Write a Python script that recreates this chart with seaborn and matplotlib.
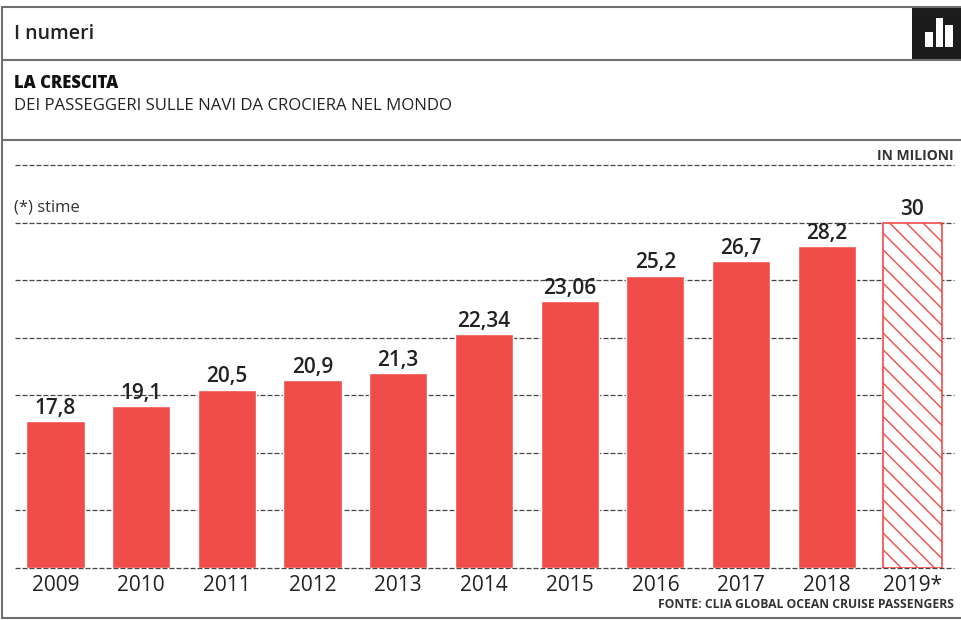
import matplotlib
matplotlib.use('Agg')
import matplotlib.pyplot as plt
from matplotlib.lines import Line2D
from matplotlib.patches import Rectangle
import pandas as pd
import seaborn as sns

W, H = 962, 620

# Categories and printed labels
years = ['2009', '2010', '2011', '2012', '2013', '2014', '2015', '2016', '2017', '2018', '2019*']
value_labels = ['17,8', '19,1', '20,5', '20,9', '21,3', '22,34', '23,06', '25,2', '26,7', '28,2', '30']
# Bar heights as printed, read against the gridlines (the original is not to scale with its labels)
bar_heights = [12.8, 14.05, 15.5, 16.35, 16.95, 20.35, 23.15, 25.4, 26.65, 27.95, 30]
grid_ticks = [0, 5, 10, 15, 20, 25, 30, 35]

RED = '#F04C4A'
INK = '#222222'
LINE = '#707070'

sns.set_theme(style='white')
plt.rcParams['font.family'] = ['Open Sans', 'DejaVu Sans']
plt.rcParams['hatch.linewidth'] = 1.0
plt.rcParams['hatch.color'] = RED


def fx(px):
    return px / W


def fy(py):
    return 1 - py / H


df = pd.DataFrame({'year': years, 'height': bar_heights})

fig = plt.figure(figsize=(W / 100, H / 100), dpi=100, facecolor='white')
ax = fig.add_axes([fx(15), fy(568), fx(954) - fx(15), fy(165) - fy(568)])

sns.barplot(data=df, x='year', y='height', color=RED, saturation=1, width=0.68, ax=ax)

ax.set_xlim(-0.472, 10.485)
ax.set_ylim(0, 35)
ax.set_yticks(grid_ticks)
ax.set_yticklabels([])
ax.set_xlabel('')
ax.set_ylabel('')
ax.set_axisbelow(True)
ax.grid(axis='y', color='#444444', linewidth=0.9, linestyle=(0, (4, 1.6)), clip_on=False)
ax.grid(axis='x', visible=False)
sns.despine(ax=ax, left=True, bottom=True, top=True, right=True)
ax.patch.set_alpha(0)
ax.tick_params(axis='x', length=0, pad=5, labelsize=15, labelcolor=INK)
ax.tick_params(axis='y', length=0)

# last bar is the estimate
last = ax.patches[-1]
last.set_facecolor('white')
last.set_edgecolor(RED)
last.set_hatch('\\\\')
last.set_linewidth(1.2)

ax.bar_label(ax.containers[0], labels=value_labels, padding=1.5, fontsize=15,
             fontweight='semibold', color=INK)

# frame and header rules (no rule on the right edge in the original)
for y in [7, 59.5, 140, 618]:
    fig.add_artist(Line2D([fx(2), 1], [fy(y), fy(y)], color=LINE, linewidth=1.5))
fig.add_artist(Line2D([fx(2), fx(2)], [fy(7), fy(618)], color=LINE, linewidth=1.5))

# dark box with the small bar icon
fig.add_artist(Rectangle((fx(912), fy(59)), fx(962) - fx(912), fy(7) - fy(59),
                         transform=fig.transFigure, color='#1c1c1c', linewidth=0))
for x0, x1, top in [(925, 932.7, 31.7), (935.7, 943.3, 18.3), (945, 952.7, 25)]:
    fig.add_artist(Rectangle((fx(x0), fy(46.7)), fx(x1) - fx(x0), fy(top) - fy(46.7),
                             transform=fig.transFigure, color='white', linewidth=0))

fig.text(fx(14), fy(34), 'I numeri', fontsize=14, fontweight='semibold', color=INK, va='center')
fig.text(fx(14), fy(83), 'LA CRESCITA', fontsize=12, fontweight='heavy', color='#111111', va='center')
fig.text(fx(14), fy(105.5), 'DEI PASSEGGERI SULLE NAVI DA CROCIERA NEL MONDO', fontsize=12.1,
         color=INK, va='center')
fig.text(fx(14), fy(208), '(*) stime', fontsize=12, color='#333333', va='center')
fig.text(fx(954), fy(156), 'IN MILIONI', fontsize=10, fontweight='bold', color='#333333',
         ha='right', va='center')
fig.text(fx(954), fy(604), 'FONTE: CLIA GLOBAL OCEAN CRUISE PASSENGERS', fontsize=8.75, fontweight='bold',
         color='#333333', ha='right', va='center')

fig.savefig('out.png', dpi=100)
